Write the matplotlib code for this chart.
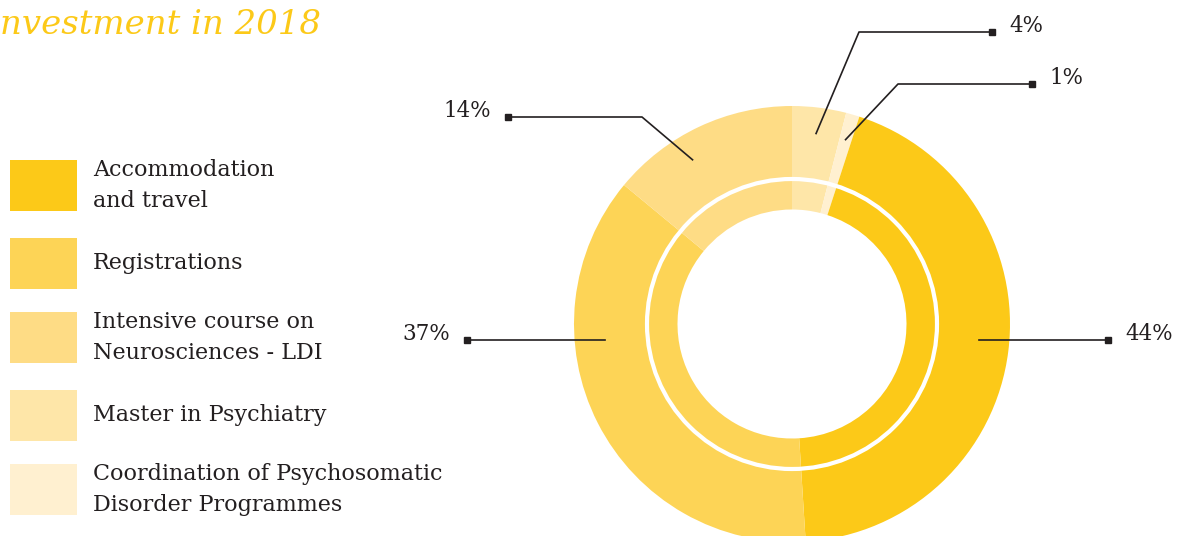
import numpy
import matplotlib
matplotlib.use("Agg")
import matplotlib.pyplot as plt
from matplotlib.patches import Rectangle, Circle

# data (clockwise from 12 o'clock)
cats = ["Master in Psychiatry",
        "Coordination of Psychosomatic\nDisorder Programmes",
        "Accommodation\nand travel",
        "Registrations",
        "Intensive course on\nNeurosciences - LDI"]
shares = [4, 1, 44, 37, 14]
colors = ["#FEE6A8", "#FFF0D0", "#FCC918", "#FDD456", "#FEDC85"]

# legend order
legend_order = [2, 3, 4, 0, 1]

W, H = 1179, 536
ink = "#231F20"
serif = "DejaVu Serif"

fig = plt.figure(figsize=(W / 100., H / 100.), dpi=100)
ax = fig.add_axes([0, 0, 1, 1])

# donut (pixel coordinates, y measured up from bottom)
cx, cy = 792, H - 324
r_out, r_in = 218, 114.5
wedges, _ = ax.pie(shares, colors=colors, startangle=90, counterclock=False,
                   radius=r_out, center=(cx, cy),
                   wedgeprops=dict(width=r_out - r_in, linewidth=0))
ax.add_patch(Circle((cx, cy), 145, fill=False, edgecolor="white", lw=3, zorder=5))

# leader lines: (label y px, square x px, elbow x px or None, side)
leaders = [(32, 992, 859, "r"),
           (84, 1032, 898, "r"),
           (340, 1108, None, "r"),
           (340, 467, None, "l"),
           (117, 508, 642, "l")]
r_mid = 192
for w, val, (ly, sx, ex, side) in zip(wedges, shares, leaders):
    y = H - ly
    if ex is None:
        dy = y - cy
        dx = numpy.sqrt((r_out - 30) ** 2 - dy ** 2)
        ax_ = cx + dx if side == "r" else cx - dx
        xs, ys = [ax_, sx], [y, y]
    else:
        mid = numpy.deg2rad((w.theta1 + w.theta2) / 2.)
        if val == 14:
            mid = mid + numpy.deg2rad(6)
        ax_ = cx + r_mid * numpy.cos(mid)
        ay_ = cy + r_mid * numpy.sin(mid)
        xs, ys = [ax_, ex, sx], [ay_, y, y]
    ax.plot(xs, ys, color=ink, lw=1.2, zorder=6)
    ax.plot([sx], [y], "s", color=ink, ms=4, zorder=6)
    if side == "r":
        ax.text(sx + 17, y + 6, "%d%%" % val, fontsize=15.5, family=serif,
                color=ink, ha="left", va="center")
    else:
        ax.text(sx - 17, y + 6, "%d%%" % val, fontsize=15.5, family=serif,
                color=ink, ha="right", va="center")

# legend
box_tops = [160, 238, 312, 390, 464]
for k, top in zip(legend_order, box_tops):
    ax.add_patch(Rectangle((10, H - top - 51), 67, 51, color=colors[k], lw=0))
    ax.text(93, H - top - 25.5, cats[k], fontsize=16, family=serif, color=ink,
            ha="left", va="center", linespacing=1.5)

# title (cropped in the original)
ax.text(0, H - 25, "nvestment in 2018", fontsize=24.5, family=serif,
        style="italic", color="#FCC918", ha="left", va="center")

ax.set_xlim(0, W)
ax.set_ylim(0, H)
ax.set_aspect("equal")
ax.axis("off")

plt.savefig("out.png", dpi=100)
